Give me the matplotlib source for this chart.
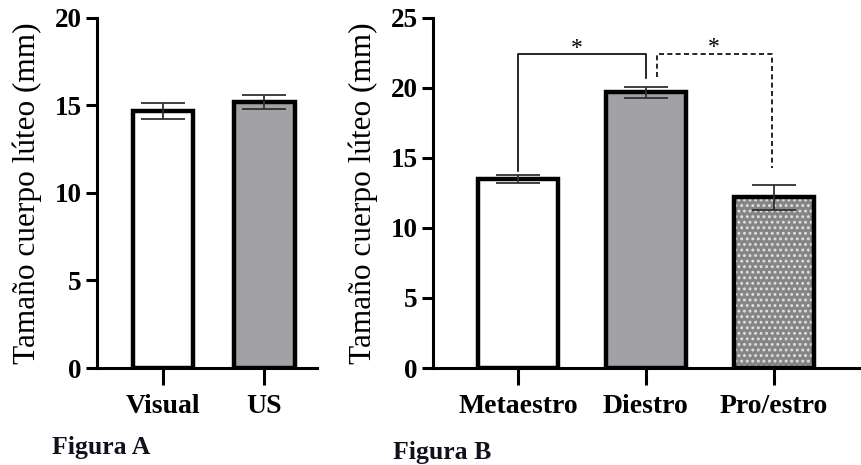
import matplotlib.pyplot as plt

# data
cat_a = ['Visual', 'US']
mean_a = [14.7, 15.2]
err_a = [0.45, 0.4]
col_a = ['white', '#a2a2a6']

cat_b = ['Metaestro', 'Diestro', 'Pro/estro']
mean_b = [13.5, 19.7, 12.2]
err_b = [0.3, 0.4, 0.9]
col_b = ['white', '#a2a2a6', '#858585']

plt.rcParams['font.family'] = 'Liberation Serif'
plt.rcParams['hatch.linewidth'] = 1.3

fig = plt.figure(figsize=(8.62, 4.65), dpi=100)
axa = fig.add_axes([0.1125, 0.2086, 0.255, 0.7527])
axb = fig.add_axes([0.5023, 0.2086, 0.4977, 0.7527])


def style(ax, ymax):
    for s in ['top', 'right']:
        ax.spines[s].set_visible(False)
    for s in ['left', 'bottom']:
        ax.spines[s].set_linewidth(2.2)
    ax.set_ylim(0, ymax)
    ax.set_yticks(range(0, ymax + 1, 5))
    ax.tick_params(axis='y', length=8, width=2.2, labelsize=19.5, pad=3)
    ax.tick_params(axis='x', length=12, width=2.2, labelsize=20, pad=7)
    for t in ax.get_xticklabels() + ax.get_yticklabels():
        t.set_fontweight('bold')
    ax.set_ylabel('Tamaño cuerpo lúteo (mm)', fontsize=22.5, labelpad=9)


# Figura A
xa = range(len(cat_a))
axa.bar(xa, mean_a, width=0.6, color=col_a, edgecolor='black', linewidth=3.2, zorder=2)
axa.errorbar(xa, mean_a, yerr=err_a, fmt='none', ecolor='#303030', elinewidth=1.3,
             capsize=16, capthick=1.3, zorder=3)
axa.set_xticks(list(xa))
axa.set_xticklabels(cat_a)
axa.set_xlim(-0.653, 1.52)
style(axa, 20)

# Figura B
xb = list(range(len(cat_b)))
for i in xb:
    if i == 2:
        axb.bar(i, mean_b[i], width=0.625, color=col_b[i], edgecolor='#e0e0e0',
                hatch='...', linewidth=0, zorder=2)
        axb.bar(i, mean_b[i], width=0.625, color='none', edgecolor='black',
                linewidth=3.2, zorder=2)
    else:
        axb.bar(i, mean_b[i], width=0.625, color=col_b[i], edgecolor='black',
                linewidth=3.2, zorder=2)
axb.errorbar(xb, mean_b, yerr=err_b, fmt='none', ecolor='#303030', elinewidth=1.3,
             capsize=16, capthick=1.3, zorder=3)
axb.set_xticks(xb)
axb.set_xticklabels(cat_b)
axb.set_xlim(-0.664, 2.69)
style(axb, 25)

# significance brackets
axb.plot([0, 0, 1, 1], [14.1, 22.4, 22.4, 20.7], color='black', lw=1.2, clip_on=False)
axb.plot([1.09, 1.09, 1.99, 1.99], [20.8, 22.4, 22.4, 14.3], color='black', lw=1.2,
         ls=(0, (3, 2)), clip_on=False)
axb.text(0.46, 22.8, '*', ha='center', va='center', fontsize=17)
axb.text(1.53, 22.9, '*', ha='center', va='center', fontsize=17)

fig.text(52 / 862, 1 - 447 / 465, 'Figura A', ha='left', va='center', fontsize=18.5,
         fontweight='bold', color='#10101e')
fig.text(393 / 862, 1 - 452 / 465, 'Figura B', ha='left', va='center', fontsize=18.5,
         fontweight='bold', color='#10101e')

fig.savefig('out.png', dpi=100)
